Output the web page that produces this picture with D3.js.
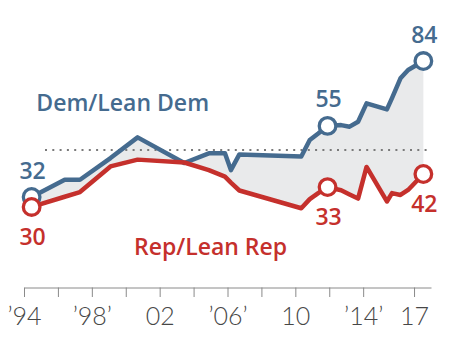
<!DOCTYPE html>
<html>
<head>
<meta charset="utf-8">
<script src="https://cdnjs.cloudflare.com/ajax/libs/d3/7.8.5/d3.min.js"></script>
<style>
  body { margin: 0; background: #fff; }
  svg { display: block; }
</style>
</head>
<body>
<div id="chart"></div>
<script>
// survey dates (decimal years) and share of each group
var dates = [1994.45, 1996.4, 1997.3, 1999.1, 2000.7, 2003.45, 2004.9, 2005.85, 2006.2, 2006.7,
	2010.35, 2010.85, 2011.35, 2011.9, 2012.7, 2013.2, 2013.7, 2014.2, 2015.4, 2015.7,
	2016.2, 2016.65, 2017.55];
var dem = [32.0, 38.6, 38.6, 46.9, 54.8, 45.0, 48.7, 48.7, 42.3, 48.3,
	47.5, 53.8, 56.3, 59.2, 59.5, 58.9, 60.8, 67.8, 65.5, 69.8,
	77.4, 80.6, 84.0];
var rep = [28.2, 32.1, 33.9, 43.7, 46.3, 45.2, 42.3, 39.8, 37.5, 34.5,
	27.7, 31.2, 33.5, 35.8, 34.6, 33.0, 31.4, 43.5, 30.3, 33.5,
	32.8, 34.7, 40.8];

// points that get a circle and a number
var callouts = [0, 13, 22];
var demLabels = ["32", "55", "84"];
var repLabels = ["30", "33", "42"];

var tickYears = [1994, 1996, 1998, 2000, 2002, 2004, 2006, 2008, 2010, 2012, 2014, 2017];
var tickLabels = { 1994: "\u201994", 1998: "\u201998\u2019", 2002: "02", 2006: "\u201906\u2019",
	2010: "10", 2014: "\u201914\u2019", 2017: "17" };

var midline = 50;

var blue = "#456b8f",
	red = "#c5302c";

var width = 450, height = 344;

var svg = d3.select("#chart")
	.append("svg")
	.attr("width", width)
	.attr("height", height);

var x = d3.scaleLinear()
	.domain([1994, 2018])
	.range([24, 431]);

var y = d3.scaleLinear()
	.domain([0, 100])
	.range([280.7, 19.2]);

var data = dates.map(function(d, i){
	return { date: d, dem: dem[i], rep: rep[i] };
});

// shaded gap
var area = d3.area()
	.x(function(d){ return x(d.date); })
	.y0(function(d){ return y(d.rep); })
	.y1(function(d){ return y(d.dem); });

svg.append("path")
	.datum(data)
	.attr("d", area)
	.attr("fill", "#e9eaeb");

// 50% reference
svg.append("line")
	.attr("x1", 45)
	.attr("x2", 427)
	.attr("y1", y(midline))
	.attr("y2", y(midline))
	.attr("stroke", "#7a7a7a")
	.attr("stroke-width", 2)
	.attr("stroke-dasharray", "2,5.3");

var demLine = d3.line()
	.x(function(d){ return x(d.date); })
	.y(function(d){ return y(d.dem); });
var repLine = d3.line()
	.x(function(d){ return x(d.date); })
	.y(function(d){ return y(d.rep); });

svg.append("path")
	.datum(data)
	.attr("d", demLine)
	.attr("fill", "none")
	.attr("stroke", blue)
	.attr("stroke-width", 4.5)
	.attr("stroke-linejoin", "round");

svg.append("path")
	.datum(data)
	.attr("d", repLine)
	.attr("fill", "none")
	.attr("stroke", red)
	.attr("stroke-width", 4.5)
	.attr("stroke-linejoin", "round");

// circles
svg.selectAll(".dem-dot")
	.data(callouts)
	.enter()
	.append("circle")
		.attr("class", "dem-dot")
		.attr("cx", function(i){ return x(dates[i]); })
		.attr("cy", function(i){ return y(dem[i]); })
		.attr("r", 8.3)
		.attr("fill", "#fff")
		.attr("stroke", blue)
		.attr("stroke-width", 3.3);

svg.selectAll(".rep-dot")
	.data(callouts)
	.enter()
	.append("circle")
		.attr("class", "rep-dot")
		.attr("cx", function(i){ return x(dates[i]); })
		.attr("cy", function(i){ return y(rep[i]); })
		.attr("r", 8.3)
		.attr("fill", "#fff")
		.attr("stroke", red)
		.attr("stroke-width", 3.3);

var numFont = "'Open Sans', sans-serif";

svg.selectAll(".dem-num")
	.data(callouts)
	.enter()
	.append("text")
		.attr("class", "dem-num")
		.attr("x", function(i){ return x(dates[i]) + 1; })
		.attr("y", function(i){ return y(dem[i]) - 18.5; })
		.attr("text-anchor", "middle")
		.attr("font-family", numFont)
		.attr("font-weight", 600)
		.attr("font-size", "23px")
		.attr("fill", blue)
		.text(function(i, k){ return demLabels[k]; });

svg.selectAll(".rep-num")
	.data(callouts)
	.enter()
	.append("text")
		.attr("class", "rep-num")
		.attr("x", function(i){ return x(dates[i]) + 1; })
		.attr("y", function(i){ return y(rep[i]) + 38; })
		.attr("text-anchor", "middle")
		.attr("font-family", numFont)
		.attr("font-weight", 600)
		.attr("font-size", "23px")
		.attr("fill", red)
		.text(function(i, k){ return repLabels[k]; });

// series names
svg.append("text")
	.attr("x", x(1999.82))
	.attr("y", y(64.9))
	.attr("text-anchor", "middle")
	.attr("font-family", numFont)
	.attr("font-weight", 600)
	.attr("font-size", "23px")
	.attr("fill", blue)
	.text("Dem/Lean Dem");

svg.append("text")
	.attr("x", x(2005.0))
	.attr("y", y(9.8))
	.attr("text-anchor", "middle")
	.attr("font-family", numFont)
	.attr("font-weight", 600)
	.attr("font-size", "23px")
	.attr("fill", red)
	.text("Rep/Lean Rep");

// x axis: line on top, ticks hanging down
var xAxisCall = d3.axisBottom(x)
	.tickValues(tickYears)
	.tickSizeInner(9.5)
	.tickSizeOuter(0)
	.tickFormat(function(d){ return tickLabels[d] || ""; });

var xAxis = svg.append("g")
	.attr("class", "x axis")
	.attr("transform", "translate(0, 287.5)")
	.call(xAxisCall);

xAxis.select(".domain").attr("stroke", "#8a8a8a");
xAxis.selectAll(".tick line").attr("stroke", "#8a8a8a");
xAxis.selectAll(".tick text")
	.attr("y", 37.5)
	.attr("dy", null)
	.attr("font-family", "Lato, sans-serif")
	.attr("font-weight", 300)
	.attr("font-size", "25px")
	.attr("fill", "#474747");
</script>
</body>
</html>
